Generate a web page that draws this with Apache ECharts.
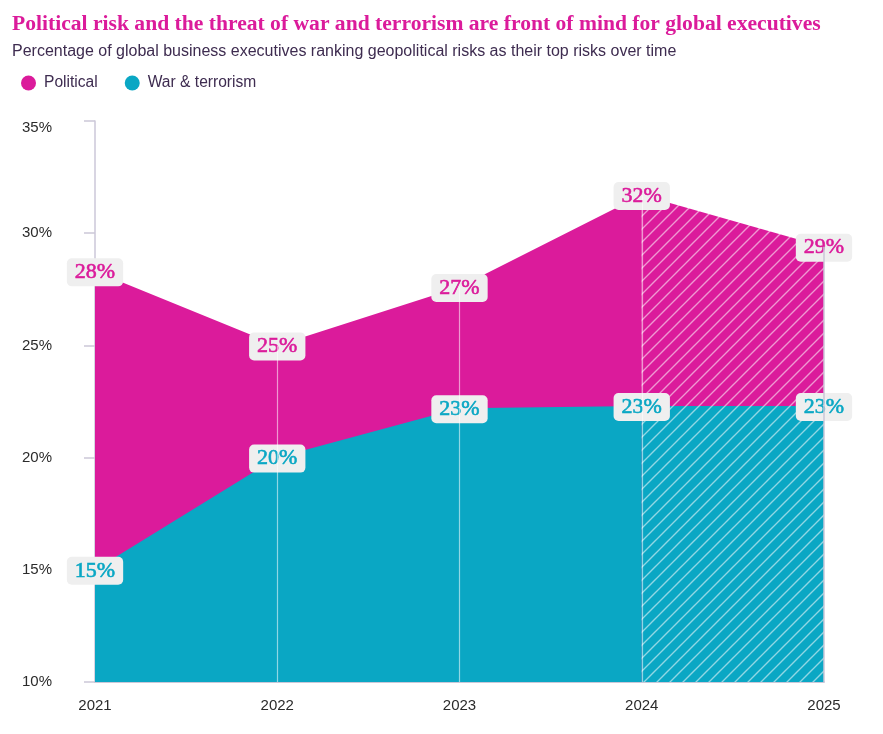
<!DOCTYPE html>
<html><head><meta charset="utf-8">
<script src="https://cdn.jsdelivr.net/npm/echarts@6/dist/echarts.min.js"></script>
<style>html,body{margin:0;padding:0;background:#fff}#c{width:883px;height:734px}</style>
</head><body><div id="c"></div>
<script>
const years = ['2021', '2022', '2023', '2024', '2025'];
const political = [28.3, 25.0, 27.6, 31.7, 29.4];
const war = [15.0, 20.0, 22.2, 22.3, 22.3];
const politicalLabels = ['28%', '25%', '27%', '32%', '29%'];
const warLabels = ['15%', '20%', '23%', '23%', '23%'];
const yTicks = [10, 15, 20, 25, 30, 35];
const forecastStart = 3; // index from which values are hatched

const MAGENTA = '#db1b9b';
const TEAL = '#0aa7c4';
const AXIS = '#cbc7d8';

function hatch(color) {
  const s = 13;
  const c = document.createElement('canvas');
  c.width = s; c.height = s;
  const ctx = c.getContext('2d');
  ctx.fillStyle = color; ctx.fillRect(0, 0, s, s);
  ctx.strokeStyle = 'rgba(255,255,255,0.55)';
  ctx.lineWidth = 1.4;
  ctx.beginPath();
  ctx.moveTo(0, s); ctx.lineTo(s, 0);
  ctx.moveTo(-2, 2); ctx.lineTo(2, -2);
  ctx.moveTo(s - 2, s + 2); ctx.lineTo(s + 2, s - 2);
  ctx.stroke();
  return { image: c, repeat: 'repeat' };
}

function labelCfg(color, texts) {
  return {
    show: true, position: 'inside', offset: [0, 1],
    formatter: p => texts[p.dataIndex],
    color: color, fontFamily: 'Liberation Serif', fontSize: 22, fontWeight: 'normal',
    textBorderColor: color, textBorderWidth: 0.6,
    backgroundColor: '#efefef', borderRadius: 5, padding: [3, 8, 2, 8], lineHeight: 23
  };
}

function solidData(vals) {
  return vals.map((v, i) => i <= forecastStart ? v : '-');
}
function hatchedData(vals) {
  return vals.map((v, i) => i >= forecastStart ? { value: v, label: { show: i > forecastStart } } : '-');
}

const vLines = years.map((y, i) => {
  const edge = i === years.length - 1;
  return [
    { coord: [y, yTicks[0]], lineStyle: { type: 'solid', color: edge ? AXIS : 'rgba(255,255,255,0.55)', width: edge ? 1.5 : 1.2 } },
    { coord: [y, political[i]] }
  ];
}).slice(1);

const chart = echarts.init(document.getElementById('c'), null, { renderer: 'canvas' });
const base = {
  type: 'line', symbol: 'circle', symbolSize: 1, showSymbol: true,
  lineStyle: { width: 0 }, silent: true, animation: false
};
chart.setOption({
  animation: false,
  title: {
    text: 'Political risk and the threat of war and terrorism are front of mind for global executives',
    subtext: 'Percentage of global business executives ranking geopolitical risks as their top risks over time',
    left: 7, top: 8, itemGap: 9,
    textStyle: { fontFamily: 'Liberation Serif', fontWeight: 'bold', fontSize: 21.6, color: MAGENTA },
    subtextStyle: { fontFamily: 'Liberation Sans', fontSize: 16, color: '#3e2c50' }
  },
  legend: {
    left: 16, top: 70, icon: 'circle', itemWidth: 15, itemHeight: 15, itemGap: 27,
    data: ['Political', 'War & terrorism'],
    textStyle: { fontFamily: 'Liberation Sans', fontSize: 15.6, color: '#3e2c50', padding: [0, 0, 0, 3] }
  },
  grid: { left: 95, right: 59, top: 121, bottom: 52 },
  xAxis: {
    type: 'category', data: years, boundaryGap: false,
    axisLine: { lineStyle: { color: AXIS, width: 2 } },
    axisTick: { show: false },
    axisLabel: { color: '#2b2b2b', fontFamily: 'Liberation Sans', fontSize: 15, margin: 16 },
    splitLine: { show: false }
  },
  yAxis: {
    type: 'value', min: yTicks[0], max: yTicks[yTicks.length - 1], interval: 5,
    axisLine: { show: true, lineStyle: { color: AXIS, width: 1.5 } },
    axisTick: { show: true, length: 11, lineStyle: { color: AXIS, width: 1.5 } },
    axisLabel: {
      formatter: v => v === yTicks[yTicks.length - 1] ? '{top|' + v + '%}' : v + '%',
      rich: { top: { padding: [14, 0, 0, 0], color: '#2b2b2b', fontFamily: 'Liberation Sans', fontSize: 15 } },
      color: '#2b2b2b', fontFamily: 'Liberation Sans', fontSize: 15, margin: 43
    },
    splitLine: { show: false }
  },
  series: [
    Object.assign({}, base, {
      name: 'Political', data: solidData(political), color: MAGENTA,
      itemStyle: { color: MAGENTA }, areaStyle: { color: MAGENTA, opacity: 1 },
      label: labelCfg(MAGENTA, politicalLabels), z: 2
    }),
    Object.assign({}, base, {
      name: 'Political forecast', data: hatchedData(political),
      itemStyle: { color: MAGENTA }, areaStyle: { color: hatch(MAGENTA), opacity: 1 },
      label: labelCfg(MAGENTA, politicalLabels), z: 2
    }),
    Object.assign({}, base, {
      name: 'War & terrorism', data: solidData(war), color: TEAL,
      itemStyle: { color: TEAL }, areaStyle: { color: TEAL, opacity: 1 },
      label: labelCfg(TEAL, warLabels), z: 3
    }),
    Object.assign({}, base, {
      name: 'War forecast', data: hatchedData(war),
      itemStyle: { color: TEAL }, areaStyle: { color: hatch(TEAL), opacity: 1 },
      label: labelCfg(TEAL, warLabels), z: 3,
      markLine: { silent: true, symbol: 'none', label: { show: false }, animation: false, data: vLines, z: 4 }
    })
  ]
});
</script></body></html>
